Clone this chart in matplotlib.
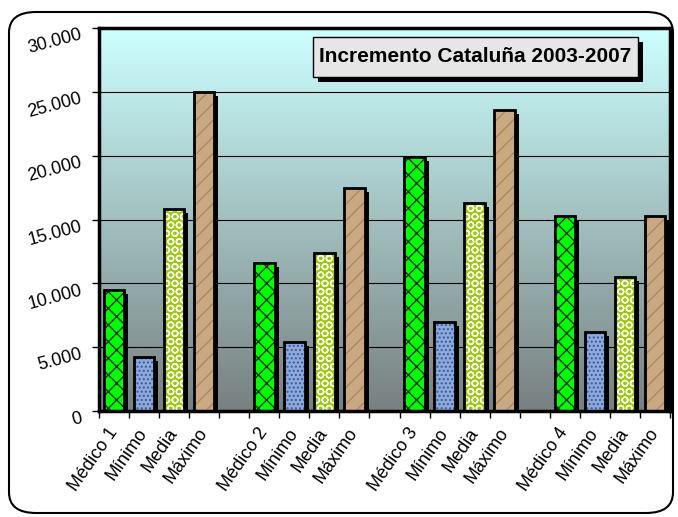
import matplotlib
matplotlib.use("Agg")
import matplotlib.pyplot as plt
import numpy as np
from matplotlib.patches import FancyBboxPatch, Rectangle
from matplotlib.transforms import ScaledTranslation
from matplotlib.ticker import FuncFormatter

plt.rcParams["font.family"] = ["Liberation Sans", "DejaVu Sans"]

# ---- data ----
groups = ["Médico 1", "Médico 2", "Médico 3", "Médico 4"]
series = ["Médico", "Mínimo", "Media", "Máximo"]
medico = [9500, 11600, 19900, 15300]
minimo = [4200, 5400, 7000, 6200]
media = [15800, 12400, 16300, 10500]
maximo = [25000, 17500, 23600, 15300]
title = "Incremento Cataluña 2003-2007"

styles = {
    "Médico": dict(face="#00ff00", hatch="xx", hcol="#003300"),
    "Mínimo": dict(face="#8ea9dc", hatch="....", hcol="#3a5a9a"),
    "Media": dict(face="#99cc00", hatch="OO", hcol="white"),
    "Máximo": dict(face="#c9a882", hatch="//", hcol="#a88a68"),
}

fig = plt.figure(figsize=(6.78, 5.17), dpi=100)

# rounded outer frame
frame = FancyBboxPatch((9 / 678, 4 / 517), 664 / 678, 501 / 517,
                       boxstyle="round,pad=0,rounding_size=0.04",
                       transform=fig.transFigure, fc="white", ec="black", lw=1.5,
                       zorder=-10)
fig.patches.append(frame)

ax = fig.add_axes([99 / 678, 106 / 517, 571 / 678, 383 / 517])

# gradient background
grad = np.linspace(0, 1, 256)[:, None]
top = np.array([204, 255, 255]) / 255
bot = np.array([120, 128, 128]) / 255
img = top[None, None, :] * (1 - grad[..., None]) + bot[None, None, :] * grad[..., None]
ax.imshow(img, extent=[0, 1, 0, 1], transform=ax.transAxes, aspect="auto", zorder=0)

values = [medico, minimo, media, maximo]
width = 0.68
shadow = ax.transData + ScaledTranslation(4 / 100, -4 / 100, fig.dpi_scale_trans)
labels, positions = [], []
for g, grp in enumerate(groups):
    for s, name in enumerate(series):
        pos = g * 5 + s
        val = values[s][g]
        st = styles[name]
        ax.bar(pos, val, width=width, color="black", transform=shadow, zorder=2)
        ax.bar(pos, val, width=width, color=st["face"], hatch=st["hatch"],
               edgecolor=st["hcol"], lw=0, zorder=3)
        ax.bar(pos, val, width=width, fill=False, edgecolor="black", lw=2, zorder=4)
        positions.append(pos)
        labels.append(grp if s == 0 else name)

ax.set_xlim(-0.5, 18.5)
ax.set_ylim(0, 30000)
ax.set_yticks(np.arange(0, 30001, 5000))
ax.yaxis.set_major_formatter(FuncFormatter(lambda v, p: f"{int(v):,}".replace(",", ".")))
ax.grid(axis="y", color="black", lw=0.8, zorder=1)
ax.set_axisbelow(True)

ax.set_xticks(positions)
ax.set_xticklabels(labels, rotation=55, ha="right", rotation_mode="anchor", fontsize=13)
ax.set_xticks(np.arange(-0.5, 19, 1), minor=True)
ax.tick_params(axis="x", which="major", length=0, pad=10)
ax.tick_params(axis="x", which="minor", length=5, width=1)
ax.tick_params(axis="y", length=5, width=1, labelsize=13, labelrotation=15, pad=6)
ylab_shift = ScaledTranslation(0, -5 / 100, fig.dpi_scale_trans)
for lbl in ax.get_yticklabels():
    lbl.set_transform(lbl.get_transform() + ylab_shift)
xlab_shift = ScaledTranslation(-7 / 100, 0, fig.dpi_scale_trans)
for lbl in ax.get_xticklabels():
    lbl.set_transform(lbl.get_transform() + xlab_shift)
for sp in ax.spines.values():
    sp.set_linewidth(2.5)
    sp.set_zorder(5)

# title box with shadow
fig.patches.append(Rectangle((318 / 678, 1 - 82 / 517), 325 / 678, 40 / 517,
                             transform=fig.transFigure, fc="black", ec="none", zorder=6))
fig.patches.append(Rectangle((313 / 678, 1 - 77 / 517), 325 / 678, 40 / 517,
                             transform=fig.transFigure, fc="#e6e6e6", ec="black", lw=1, zorder=7))
fig.text(475.5 / 678, 1 - 57 / 517, title, ha="center", va="center",
         fontsize=15, fontweight="bold", zorder=8)

fig.savefig("out.png", dpi=100)
